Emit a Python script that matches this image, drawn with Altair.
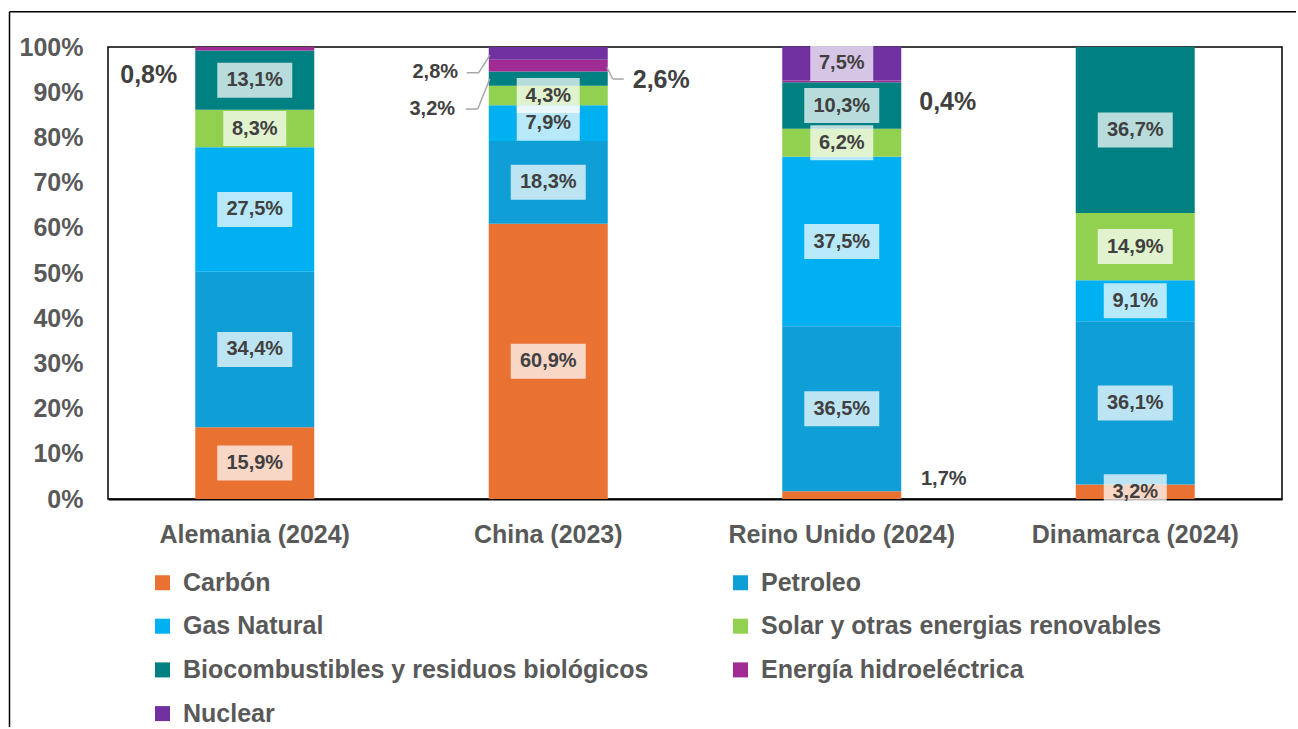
import altair as alt
import pandas as pd

# Energy mix by source, share of total primary energy (%)
countries = ["Alemania (2024)", "China (2023)", "Reino Unido (2024)", "Dinamarca (2024)"]
sources = [
    "Carbón",
    "Petroleo",
    "Gas Natural",
    "Solar y otras energias renovables",
    "Biocombustibles y residuos biológicos",
    "Energía hidroeléctrica",
    "Nuclear",
]
colors = ["#E97132", "#0F9ED5", "#00B0F0", "#92D050", "#008080", "#A02B93", "#7030A0"]

carbon = [15.9, 60.9, 1.7, 3.2]
petroleo = [34.4, 18.3, 36.5, 36.1]
gas_natural = [27.5, 7.9, 37.5, 9.1]
solar = [8.3, 4.3, 6.2, 14.9]
biocombustibles = [13.1, 3.2, 10.3, 36.7]
hidroelectrica = [0.8, 2.6, 0.4, 0.0]
nuclear = [0.0, 2.8, 7.5, 0.0]

series = [carbon, petroleo, gas_natural, solar, biocombustibles, hidroelectrica, nuclear]

FONT = "Liberation Sans"
GRAY = "#595959"
DARK = "#404040"

# Segments whose value label sits outside the bar: text offset (px), font size, leader polyline (px)
callouts = {
    ("Alemania (2024)", "Energía hidroeléctrica"): dict(dx=-106, dy=26, size=25, leader=[]),
    ("China (2023)", "Nuclear"): dict(dx=-113, dy=19, size=20,
                                      leader=[(-58.5, 1.7), (-69.5, 19.4), (-81.5, 19.4)]),
    ("China (2023)", "Biocombustibles y residuos biológicos"): dict(
        dx=-116, dy=30, size=20, leader=[(-58.5, 0.4), (-70.5, 30.4), (-82.5, 30.4)]),
    ("China (2023)", "Energía hidroeléctrica"): dict(dx=113, dy=14.5, size=25,
                                                     leader=[(58.5, 1.5), (64.5, 13.5), (75.5, 13.5)]),
    ("Reino Unido (2024)", "Energía hidroeléctrica"): dict(dx=106, dy=21, size=25, leader=[]),
    ("Reino Unido (2024)", "Carbón"): dict(dx=102, dy=-16, size=20, leader=[]),
}


def pct(v):
    return f"{v:.1f}".replace(".", ",") + "%"


rows = []
for ci, country in enumerate(countries):
    base = 0.0
    for si, (src, vals) in enumerate(zip(sources, series)):
        v = vals[ci]
        if v > 0:
            rows.append(dict(country=country, source=src, order=si, value=v,
                             mid=base + v / 2, label=pct(v),
                             inside=(country, src) not in callouts))
        base += v
df = pd.DataFrame(rows)

x_enc = alt.X(
    "country:N", sort=countries, title=None,
    scale=alt.Scale(paddingInner=0, paddingOuter=0),
    axis=alt.Axis(labelAngle=0, labelFont=FONT, labelFontSize=25, labelFontWeight="bold",
                  labelColor=GRAY, labelLimit=400, ticks=False, tickSize=0, labelPadding=23,
                  domainColor="#000000", domainWidth=2),
)
y_scale = alt.Scale(domain=[0, 100], nice=False)
y_axis = alt.Axis(values=list(range(0, 101, 10)), labelExpr="datum.value + '%'", grid=False,
                  domain=False, ticks=False, tickSize=0, labelPadding=25, labelFont=FONT,
                  labelFontSize=25, labelFontWeight="bold", labelColor=GRAY)

chart_base = alt.Chart(df)

bars = chart_base.mark_bar(width=119).encode(
    x=x_enc,
    y=alt.Y("value:Q", stack="zero", scale=y_scale, axis=y_axis, title=None),
    color=alt.Color(
        "source:N", sort=sources, scale=alt.Scale(domain=sources, range=colors),
        legend=alt.Legend(title=None, orient="none", legendX=42, legendY=523, columns=2,
                          direction="horizontal", columnPadding=79, rowPadding=17.7,
                          symbolType="square", symbolSize=225, symbolStrokeWidth=0,
                          symbolOpacity=1, labelFont=FONT, labelFontSize=25,
                          labelFontWeight="bold", labelColor=GRAY, labelLimit=700,
                          labelOffset=8, padding=0),
    ),
    order=alt.Order("order:Q", sort="ascending"),
)

y_mid = alt.Y("mid:Q", scale=y_scale, title=None)

# light label boxes behind the in-bar values
boxes_wide = chart_base.transform_filter(
    "datum.inside && length(datum.label) == 5"
).mark_bar(width=75, color="white", opacity=0.72, yOffset=17.5, y2Offset=-17.5).encode(
    x=x_enc, y=y_mid, y2=alt.Y2("mid"))
boxes_narrow = chart_base.transform_filter(
    "datum.inside && length(datum.label) == 4"
).mark_bar(width=63, color="white", opacity=0.72, yOffset=17.5, y2Offset=-17.5).encode(
    x=x_enc, y=y_mid, y2=alt.Y2("mid"))

inside_text = chart_base.transform_filter("datum.inside").mark_text(
    font=FONT, fontSize=20, fontWeight="bold", color=DARK, align="center", baseline="middle"
).encode(x=x_enc, y=y_mid, text="label:N")

layers = [bars, boxes_wide, boxes_narrow, inside_text]

for (country, src), c in callouts.items():
    sel = chart_base.transform_filter(
        (alt.datum.country == country) & (alt.datum.source == src))
    for (x0, y0), (x1, y1) in zip(c["leader"][:-1], c["leader"][1:]):
        layers.append(sel.mark_rule(color="#A6A6A6", strokeWidth=1.5,
                                    xOffset=x0, x2Offset=x1, yOffset=y0, y2Offset=y1).encode(
            x=x_enc, x2=alt.X2("country"), y=y_mid, y2=alt.Y2("mid")))
    layers.append(sel.mark_text(
        font=FONT, fontSize=c["size"], fontWeight="bold", color=DARK, align="center",
        baseline="middle", dx=c["dx"], dy=c["dy"]).encode(x=x_enc, y=y_mid, text="label:N"))

# outer chart-area frame (left and top edges)
frame_df = pd.DataFrame({"edge": ["top", "left"]})
frame_top = alt.Chart(frame_df).transform_filter("datum.edge == 'top'").mark_rule(
    color="#000000", strokeWidth=1.5).encode(
    x=alt.value(-98.5), x2=alt.value(1188), y=alt.value(-35.3), y2=alt.value(-35.3))
frame_left = alt.Chart(frame_df).transform_filter("datum.edge == 'left'").mark_rule(
    color="#000000", strokeWidth=1.5).encode(
    x=alt.value(-98.5), x2=alt.value(-98.5), y=alt.value(-35.3), y2=alt.value(680))
layers += [frame_top, frame_left]

chart = alt.layer(*layers).properties(
    width=1174, height=452,
    autosize=alt.AutoSizeParams(type="none"),
    padding={"left": 108, "top": 47, "right": 16, "bottom": 230},
).configure_view(stroke="#000000", strokeWidth=1.5)

chart.save("out.html", embed_options={"renderer": "svg", "actions": False})
